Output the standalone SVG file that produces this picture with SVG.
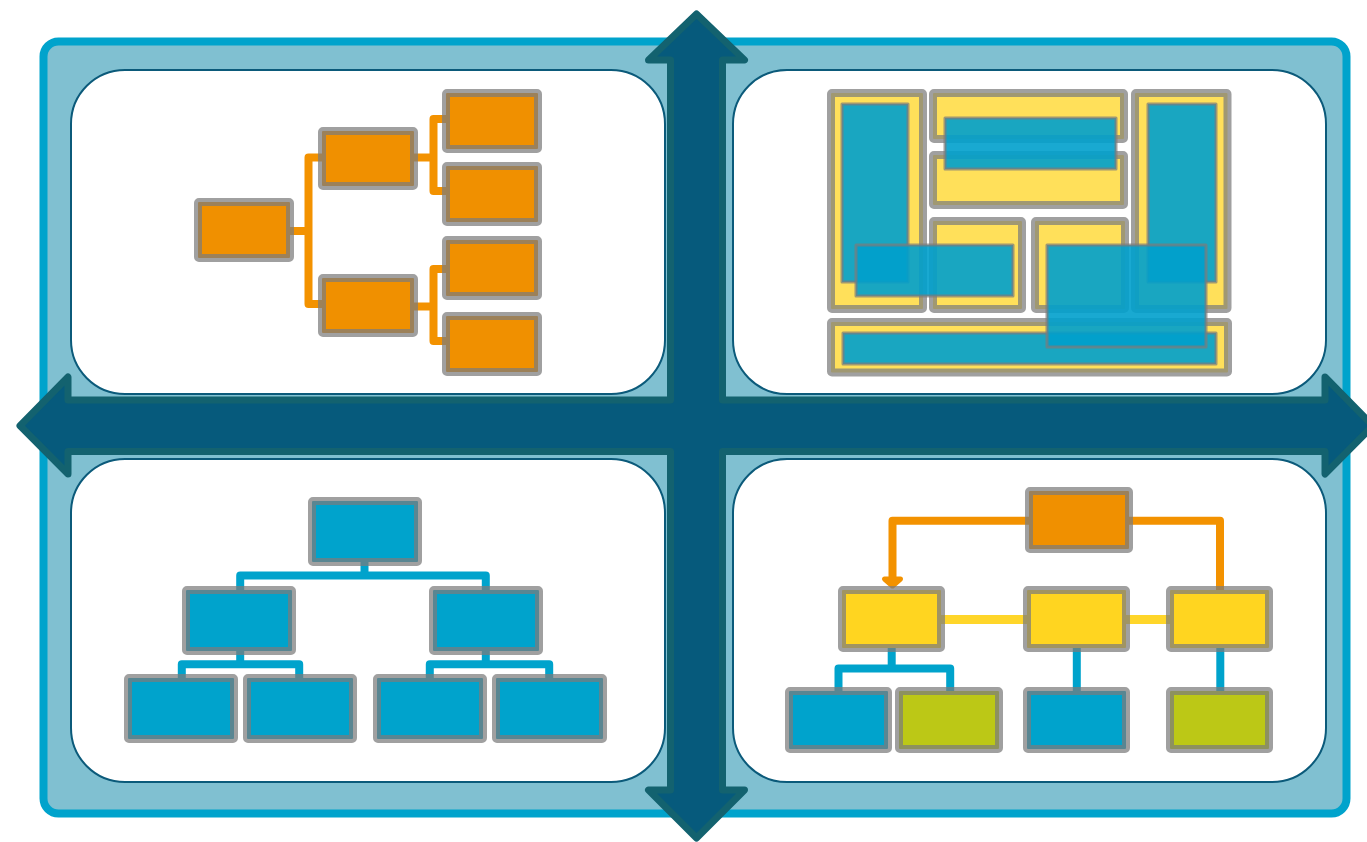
<svg xmlns="http://www.w3.org/2000/svg" width="1367" height="842" viewBox="0 0 1367 842">
<defs>
<style>
.panel{fill:#ffffff;stroke:#0b5a7a;stroke-width:2}
.box{stroke:#7c7c7c;stroke-opacity:0.72;stroke-width:8;stroke-linejoin:round}
.or{fill:#f09000}
.bl{fill:#00a3cc}
.ye{fill:#ffd520}
.gr{fill:#bcc816}
.ly{fill:#ffe05a}
.tb{fill:#00a0cc;fill-opacity:0.9;stroke:#7c7c7c;stroke-opacity:0.72;stroke-width:3;stroke-linejoin:round}
.ln{fill:none;stroke-width:8;stroke-linejoin:round}
.lo{stroke:#f39200}
.lb{stroke:#00a3cc}
.lyc{stroke:#ffd62a;stroke-width:9}
</style>
<marker id="ah" markerUnits="userSpaceOnUse" markerWidth="30" markerHeight="30" orient="auto" overflow="visible">
<path d="M-3,-8 L4,0 L-3,8 Z" fill="#f39200" stroke="#f39200" stroke-width="5" stroke-linejoin="round"/>
</marker>
</defs>

<g id="background">
<rect x="43.5" y="41.5" width="1303" height="772" rx="15" fill="#80c0d1" stroke="#00a3cc" stroke-width="8"/>
</g>

<g id="panels">
<rect id="panel-tl" class="panel" x="71" y="70" width="594" height="324" rx="54"/>
<rect id="panel-tr" class="panel" x="733" y="70" width="593" height="324" rx="54"/>
<rect id="panel-bl" class="panel" x="71" y="459" width="594" height="323" rx="54"/>
<rect id="panel-br" class="panel" x="733" y="459" width="593" height="323" rx="54"/>
</g>

<g id="cross">
<path d="M696.5,14 L744.5,60 L722.5,60 L722.5,400 L1325,400 L1325,377 L1373,425.8 L1325,474 L1325,451.5 L722.5,451.5 L722.5,790 L744.5,790 L696.5,838 L648.5,790 L670.5,790 L670.5,451.5 L68,451.5 L68,474 L20,425.8 L68,377 L68,400 L670.5,400 L670.5,60 L648.5,60 Z" fill="#065a7c" stroke="#13626f" stroke-width="7" stroke-linejoin="round"/>
</g>

<g id="connectors">
<!-- top-left orange tree -->
<path class="ln lo" d="M280,231 H308.5"/>
<path class="ln lo" d="M330,157.5 H308.5 V304 H330"/>
<path class="ln lo" d="M405,157.5 H433.5"/>
<path class="ln lo" d="M455,119 H433.5 V191 H455"/>
<path class="ln lo" d="M405,306.5 H433.5"/>
<path class="ln lo" d="M455,269 H433.5 V341 H455"/>
<!-- bottom-left blue tree -->
<path class="ln lb" d="M364.5,555 V575.5"/>
<path class="ln lb" d="M240.2,598 V575.5 H485.8 V598"/>
<path class="ln lb" d="M240.2,645 V664.2"/>
<path class="ln lb" d="M181.8,686 V664.2 H299.2 V686"/>
<path class="ln lb" d="M485.8,645 V664.2"/>
<path class="ln lb" d="M429.8,686 V664.2 H549.2 V686"/>
<!-- bottom-right flow -->
<path class="ln lo" d="M1035,520.8 H892.5 V582" marker-end="url(#ah)"/>
<path class="ln lo" d="M1122,520.8 H1220 V598"/>
<path class="ln lyc" d="M935,619.5 H1176"/>
<path class="ln lb" d="M891.7,642 V668.5"/>
<path class="ln lb" d="M838.5,698 V668.5 H950.2 V698"/>
<path class="ln lb" d="M1076.8,642 V698"/>
<path class="ln lb" d="M1220.3,642 V698"/>
</g>

<g id="tree-left">
<g id="tl-root"><rect class="box or" x="198" y="202" width="92" height="56" rx="1"/></g>
<g id="tl-mid1"><rect class="box or" x="322" y="131" width="92" height="55" rx="1"/></g>
<g id="tl-mid2"><rect class="box or" x="322" y="278" width="92" height="55" rx="1"/></g>
<g id="tl-leaf1"><rect class="box or" x="446" y="93" width="92" height="56" rx="1"/></g>
<g id="tl-leaf2"><rect class="box or" x="446" y="166" width="92" height="56" rx="1"/></g>
<g id="tl-leaf3"><rect class="box or" x="446" y="240" width="92" height="56" rx="1"/></g>
<g id="tl-leaf4"><rect class="box or" x="446" y="316" width="92" height="56" rx="1"/></g>
</g>

<g id="layout-right">
<g id="tr-a"><rect class="box ly" x="831" y="93" width="92" height="216" rx="1"/></g>
<g id="tr-b"><rect class="box ly" x="933" y="93" width="191" height="46" rx="1"/></g>
<g id="tr-c"><rect class="box ly" x="933" y="155" width="191" height="50" rx="1"/></g>
<g id="tr-d"><rect class="box ly" x="933" y="221" width="89" height="88" rx="1"/></g>
<g id="tr-e"><rect class="box ly" x="1035" y="221" width="90" height="88" rx="1"/></g>
<g id="tr-f"><rect class="box ly" x="1135" y="93" width="92.5" height="216" rx="1"/></g>
<g id="tr-g"><rect class="box ly" x="831" y="322" width="397" height="50.5" rx="1"/></g>
<g id="tr-blue1"><rect class="tb" x="842" y="104" width="66" height="178"/></g>
<g id="tr-blue2"><rect class="tb" x="1148" y="104" width="68" height="178"/></g>
<g id="tr-blue3"><rect class="tb" x="945" y="118" width="171" height="51"/></g>
<g id="tr-blue4"><rect class="tb" x="843" y="333" width="373" height="31"/></g>
<g id="tr-blue5"><rect class="tb" x="856" y="245" width="157" height="51"/></g>
<g id="tr-blue6"><rect class="tb" x="1047" y="245" width="159" height="102"/></g>
</g>

<g id="tree-bottom">
<g id="bl-top"><rect class="box bl" x="312" y="501" width="106" height="61" rx="1"/></g>
<g id="bl-mid1"><rect class="box bl" x="186" y="590" width="106" height="61" rx="1"/></g>
<g id="bl-mid2"><rect class="box bl" x="433" y="590" width="106" height="61" rx="1"/></g>
<g id="bl-leaf1"><rect class="box bl" x="128" y="678" width="106" height="61" rx="1"/></g>
<g id="bl-leaf2"><rect class="box bl" x="247" y="678" width="106" height="61" rx="1"/></g>
<g id="bl-leaf3"><rect class="box bl" x="377" y="678" width="106" height="61" rx="1"/></g>
<g id="bl-leaf4"><rect class="box bl" x="496" y="678" width="107" height="61" rx="1"/></g>
</g>

<g id="flow-right">
<g id="br-top"><rect class="box or" x="1029" y="491" width="100" height="58" rx="1"/></g>
<g id="br-y1"><rect class="box ye" x="842" y="590" width="99" height="58" rx="1"/></g>
<g id="br-y2"><rect class="box ye" x="1027" y="590" width="99" height="58" rx="1"/></g>
<g id="br-y3"><rect class="box ye" x="1170" y="590" width="99" height="58" rx="1"/></g>
<g id="br-q1"><rect class="box bl" x="789" y="691" width="99" height="58" rx="1"/></g>
<g id="br-q2"><rect class="box gr" x="899" y="691" width="100" height="58" rx="1"/></g>
<g id="br-q3"><rect class="box bl" x="1027" y="691" width="99" height="58" rx="1"/></g>
<g id="br-q4"><rect class="box gr" x="1170" y="691" width="99" height="58" rx="1"/></g>
</g>
</svg>
